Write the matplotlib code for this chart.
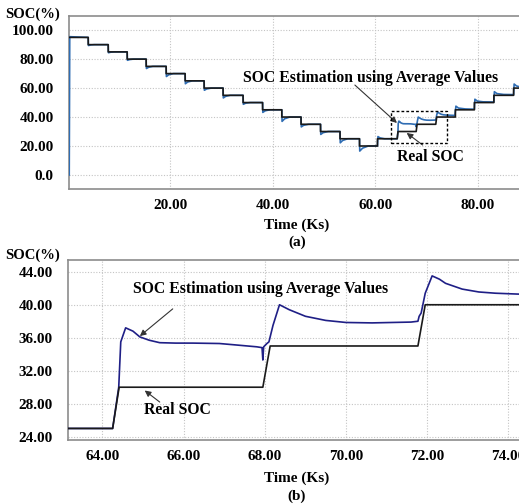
import matplotlib
matplotlib.use("Agg")
import matplotlib.pyplot as plt
from matplotlib.patches import Rectangle

plt.rcParams['font.family'] = ['Liberation Serif', 'DejaVu Serif']
plt.rcParams['font.weight'] = 'bold'

# real SOC (corner points of the step profile, Ks / %)
real_t = [0.3, 4.0, 4.0, 7.9, 7.9, 11.6, 11.6, 15.3, 15.3, 19.2, 19.2, 22.9, 22.9,
          26.6, 26.6, 30.3, 30.3, 34.2, 34.2, 38.0, 38.0, 41.75, 41.75, 45.5, 45.5,
          49.3, 49.3, 53.1, 53.1, 56.9, 56.9, 60.4, 60.4, 64.25, 64.41, 67.95, 68.13,
          71.77, 71.95, 75.6, 75.6, 79.3, 79.3, 83.1, 83.1, 86.95, 86.95, 88.0]
real_v = [95, 95, 90, 90, 85, 85, 80, 80, 75, 75, 70, 70, 65,
          65, 60, 60, 55, 55, 50, 50, 45, 45, 40, 40, 35,
          35, 30, 30, 25, 25, 20, 20, 25, 25, 30, 30, 35,
          35, 40, 40, 45, 45, 50, 50, 55, 55, 60, 60]

# SOC estimation using average values
est_t = [0.3, 0.4, 4.0, 4.05, 4.5, 5.2, 7.9, 7.95, 8.4, 9.1,
         11.6, 11.65, 12.1, 12.8, 15.3, 15.35, 15.8, 16.6, 19.2, 19.25, 19.7, 20.6,
         22.9, 22.95, 23.4, 24.3, 26.6, 26.65, 27.1, 28.0, 30.3, 30.35, 30.8, 31.7,
         34.2, 34.25, 34.7, 35.6, 38.0, 38.05, 38.5, 39.4, 41.75, 41.8, 42.3, 43.3,
         45.5, 45.55, 46.0, 47.0, 49.3, 49.35, 49.8, 50.8, 53.1, 53.15, 53.6, 54.6,
         56.9, 56.95, 57.5, 58.6, 60.4, 60.5, 60.9, 61.8, 64.25, 64.4, 64.45, 64.57,
         64.75, 64.92, 65.15, 65.41, 65.8, 66.22, 66.88, 67.23, 67.8, 67.93, 67.95, 67.97,
         68.05, 68.1, 68.2, 68.36, 68.6, 69.0, 69.5, 70.0, 70.64, 71.6, 71.77, 71.8,
         71.85, 71.95, 72.12, 72.3, 72.45, 72.86, 73.27, 73.68, 74.2, 75.5, 75.7, 76.2,
         77.5, 79.3, 79.4, 79.9, 81.0, 83.1, 83.2, 83.7, 85.0, 86.95, 87.05, 87.5, 88.0]
est_v = [0.0, 95.5, 95.0, 89.4, 89.8, 90.0, 90.0, 84.4, 84.8, 85.0,
         85.0, 79.2, 79.7, 80.0, 80.0, 73.5, 74.4, 75.0, 75.0, 68.0, 69.2, 70.0,
         70.0, 63.0, 64.2, 65.0, 65.0, 58.5, 59.4, 60.0, 60.0, 53.2, 54.3, 55.0,
         55.0, 48.8, 49.6, 50.0, 50.0, 43.2, 44.3, 45.0, 45.0, 37.0, 38.8, 40.0,
         40.0, 33.2, 34.3, 35.0, 35.0, 28.0, 29.2, 30.0, 30.0, 22.2, 23.8, 25.0,
         25.0, 16.5, 18.5, 20.0, 20.0, 26.5, 25.6, 25.0, 25.0, 30.0, 35.5, 37.2,
         36.8, 36.1, 35.7, 35.4, 35.35, 35.35, 35.3, 35.15, 34.9, 34.8, 33.3, 34.9,
         35.3, 35.5, 37.5, 40.0, 39.4, 38.6, 38.1, 37.85, 37.8, 37.9, 38.0, 38.6,
         39.0, 41.4, 43.5, 43.1, 42.6, 41.9, 41.55, 41.4, 41.3, 41.1, 47.5, 46.2,
         45.6, 45.4, 52.3, 51.0, 50.5, 50.4, 57.5, 56.2, 55.6, 55.5, 62.8, 61.5, 61.0]

top_xticks = [20, 40, 60, 80]
top_xlabels = ['20.00', '40.00', '60.00', '80.00']
top_yticks = [0, 20, 40, 60, 80, 100]
top_ylabels = ['0.0', '20.00', '40.00', '60.00', '80.00', '100.00']
bot_xticks = [64, 66, 68, 70, 72, 74]
bot_xlabels = ['64.00', '66.00', '68.00', '70.00', '72.00', '74.00']
bot_yticks = [24, 28, 32, 36, 40, 44]
bot_ylabels = ['24.00', '28.00', '32.00', '36.00', '40.00', '44.00']

fig = plt.figure(figsize=(5.19, 5.04), dpi=100)
ax1 = fig.add_axes([0.1329, 0.625, 0.8671, 0.343])
ax2 = fig.add_axes([0.131, 0.127, 0.869, 0.357])


def style(ax, xt, xl, yt, yl):
    ax.set_xticks(xt)
    ax.set_xticklabels(xl)
    ax.set_yticks(yt)
    ax.set_yticklabels(yl)
    ax.tick_params(length=0, labelsize=11, colors='black')
    ax.tick_params(axis='x', pad=7)
    ax.tick_params(axis='y', pad=11)
    for lab in ax.get_xticklabels() + ax.get_yticklabels():
        lab.set_fontweight('bold')
    ax.grid(True, linestyle=(0, (1, 1.5)), color='#c4c4c4', linewidth=0.8)
    for s in ['left', 'top', 'bottom']:
        ax.spines[s].set_color('#8c8c8c')
        ax.spines[s].set_linewidth(1.2)
    ax.spines['right'].set_visible(False)


# (a) full run
ax1.plot(est_t, est_v, color='#2f6db3', linewidth=1.2, zorder=3)
ax1.plot(real_t, real_v, color='#1a1a1a', linewidth=1.2, zorder=4)
ax1.set_xlim(0.25, 88.0)
ax1.set_ylim(-9.7, 109.7)
style(ax1, top_xticks, top_xlabels, top_yticks, top_ylabels)

ax1.add_patch(Rectangle((63.0, 21.9), 10.9, 22.4, fill=False, edgecolor='black',
                        linestyle=(0, (2, 1.5)), linewidth=1.0, zorder=5))
arrow = dict(arrowstyle='-|>', color='#333333', lw=0.8, mutation_scale=9,
             shrinkA=0, shrinkB=0)
ax1.text(59.1, 66.9, 'SOC Estimation using Average Values', ha='center',
         va='center', fontsize=11.3, fontweight='bold')
ax1.annotate('', xy=(64.2, 35.9), xytext=(56.0, 62.1), arrowprops=arrow)
ax1.text(70.8, 12.4, 'Real SOC', ha='center', va='center', fontsize=11.3,
         fontweight='bold')
ax1.annotate('', xy=(66.1, 29.0), xytext=(69.2, 20.7), arrowprops=arrow)

# (b) zoom of dashed box
ax2.plot(est_t, est_v, color='#1f1f86', linewidth=1.2, zorder=3)
ax2.plot(real_t, real_v, color='#1a1a1a', linewidth=1.2, zorder=4)
ax2.set_xlim(63.15, 74.26)
ax2.set_ylim(23.6, 45.42)
style(ax2, bot_xticks, bot_xlabels, bot_yticks, bot_ylabels)

ax2.text(67.89, 41.9, 'SOC Estimation using Average Values', ha='center',
         va='center', fontsize=11.3, fontweight='bold')
ax2.annotate('', xy=(64.92, 36.2), xytext=(65.73, 39.5), arrowprops=arrow)
ax2.text(65.85, 27.2, 'Real SOC', ha='center', va='center', fontsize=11.3,
         fontweight='bold')
ax2.annotate('', xy=(65.04, 29.6), xytext=(65.41, 28.2), arrowprops=arrow)

# labels
fig.text(0.01, 1 - 14 / 504, 'SOC(%)', ha='left', va='center', fontsize=10.5,
         fontweight='bold')
fig.text(0.01, 1 - 255 / 504, 'SOC(%)', ha='left', va='center', fontsize=10.5,
         fontweight='bold')
fig.text(0.572, 1 - 225.7 / 504, 'Time (Ks)', ha='center', va='center',
         fontsize=11, fontweight='bold')
fig.text(0.572, 1 - 242.7 / 504, '(a)', ha='center', va='center', fontsize=11,
         fontweight='bold')
fig.text(0.572, 1 - 478.3 / 504, 'Time (Ks)', ha='center', va='center',
         fontsize=11, fontweight='bold')
fig.text(0.572, 1 - 496.7 / 504, '(b)', ha='center', va='center', fontsize=11,
         fontweight='bold')

fig.savefig('out.png', dpi=100)
